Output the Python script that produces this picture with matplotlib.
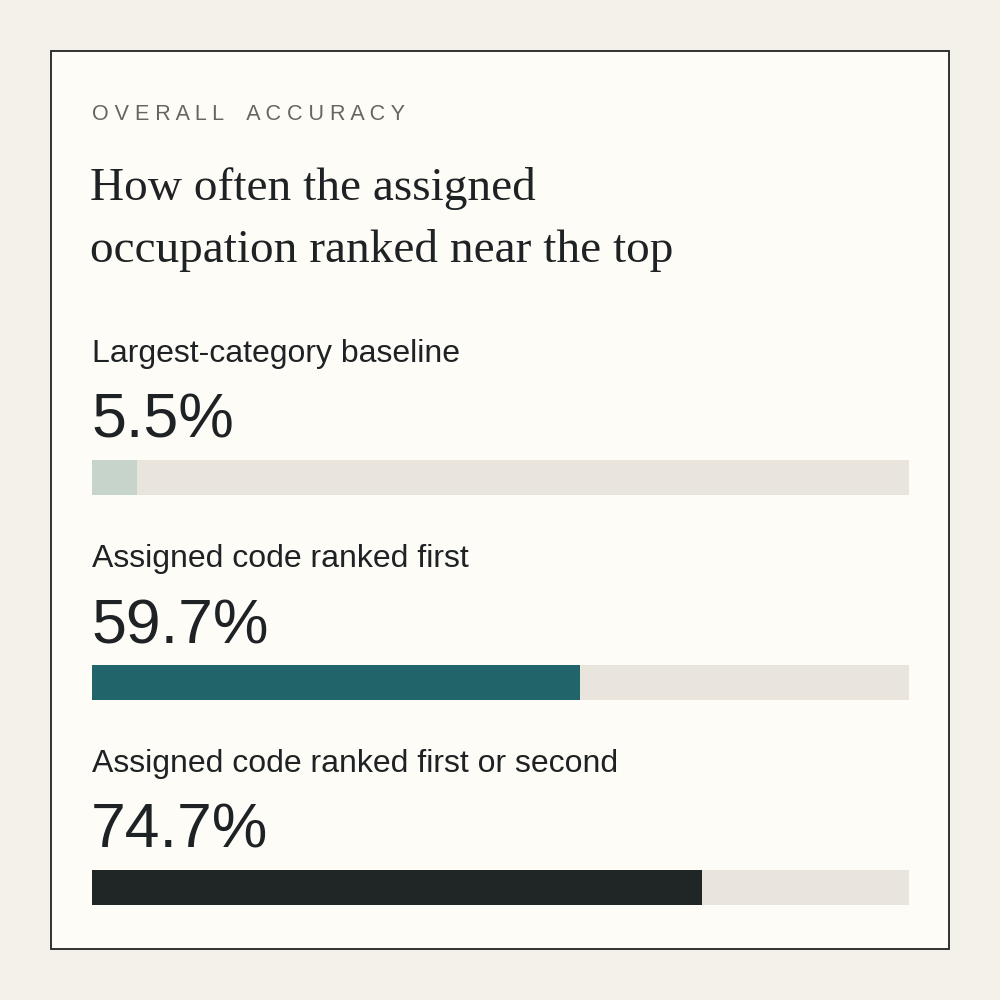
import matplotlib
matplotlib.use("Agg")
import matplotlib.pyplot as plt
from matplotlib.patches import Rectangle

labels = ["Largest-category baseline", "Assigned code ranked first", "Assigned code ranked first or second"]
values = [5.5, 59.7, 74.7]
colors = ["#c6d4cb", "#21646a", "#202526"]
eyebrow = "O V E R A L L    A C C U R A C Y"
title_lines = ["How often the assigned", "occupation ranked near the top"]

W = H = 1000
fig = plt.figure(figsize=(10, 10), dpi=100, facecolor="#f4f1ea")
bg = fig.add_axes([0, 0, 1, 1])
bg.set_xlim(0, W); bg.set_ylim(H, 0); bg.axis("off")
bg.add_patch(Rectangle((51, 51), 898, 898, facecolor="#fdfcf6", edgecolor="#222222", lw=1.3))

bg.text(92, 120, eyebrow, fontsize=15.5, color="#666660", va="baseline", ha="left",
        family="Liberation Sans")
for k, line in enumerate(title_lines):
    bg.text(90, 200 + 62 * k, line, fontsize=34, color="#1f2224", va="baseline", ha="left",
            family="Liberation Serif")

for i, (lab, v, c) in enumerate(zip(labels, values, colors)):
    y0 = 205 * i
    bg.text(92, 362 + y0, lab, fontsize=23, color="#1f2224", va="baseline", ha="left", family="Liberation Sans")
    bg.text(91, 438 + y0, f"{v}%", fontsize=45, color="#1f2224", va="baseline", ha="left", family="Liberation Sans")
    top = 460 + y0
    ax = fig.add_axes([92 / W, 1 - (top + 35) / H, (909 - 92) / W, 35 / H])
    ax.set_xlim(0, 100); ax.set_ylim(0, 1); ax.axis("off")
    ax.barh(0.5, 100, height=1, color="#e9e5dc")
    ax.barh(0.5, v, height=1, color=c)

fig.savefig("out.png", dpi=100, facecolor=fig.get_facecolor())
